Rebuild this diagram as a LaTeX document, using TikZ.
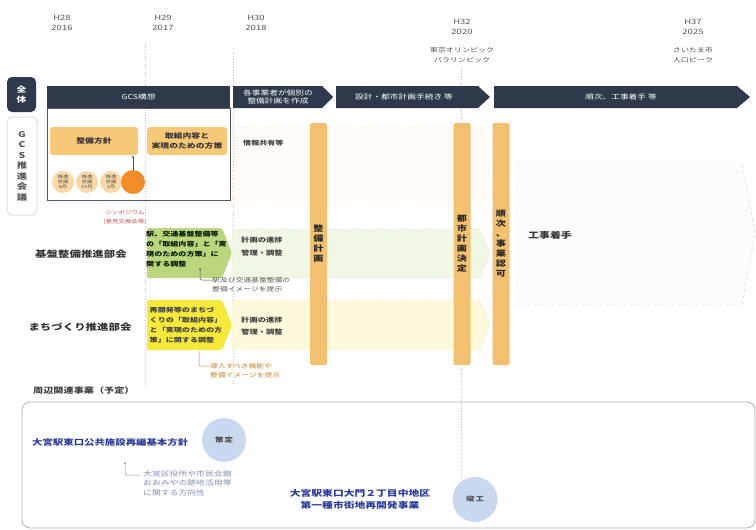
\documentclass[tikz,border=0pt]{standalone}
\usepackage{fontspec}
\setmainfont[FakeStretch=1.3]{Noto Sans CJK JP}
\definecolor{navy}{HTML}{2E3A4C}
\definecolor{obar}{HTML}{F3C070}
\definecolor{obox}{HTML}{F7C878}
\definecolor{ocirc}{HTML}{F28C28}
\definecolor{ocircl}{HTML}{F9D9A6}
\definecolor{gbox}{HTML}{BCD67E}
\definecolor{gband}{HTML}{F0F7E4}
\definecolor{ybox}{HTML}{F6E93A}
\definecolor{yband}{HTML}{FDFADC}
\definecolor{bcirc}{HTML}{C9D8EF}
\definecolor{btext}{HTML}{2A3C9C}
\definecolor{grtext}{HTML}{555555}
\definecolor{annog}{HTML}{4F5F45}
\definecolor{annoy}{HTML}{C8862A}
\definecolor{annob}{HTML}{8090B0}
\definecolor{symp}{HTML}{C0504D}
\begin{document}
\begin{tikzpicture}[x=1pt,y=-1pt,
  every node/.style={inner sep=0pt, font=\fontsize{6.5}{9}\selectfont},
  yr/.style={align=center, text=grtext, font=\fontsize{7.3}{10}\selectfont},
  vline/.style={draw=gray!45, dotted, line width=0.7pt},
  navyfill/.style={fill=navy},
  navytext/.style={text=white, align=center, font=\fontsize{6.7}{9}\selectfont},
  obarbox/.style={fill=obar, rounded corners=2pt, minimum width=17, minimum height=242, align=center, font=\bfseries\fontsize{7.8}{10}\selectfont, text=black!85},
  oboxst/.style={fill=obox, rounded corners=3pt, minimum width=88, minimum height=28, align=center, font=\bfseries\fontsize{6.8}{10}\selectfont, text=black!80},
  smallc/.style={circle, fill=ocircl, minimum size=22, align=center, font=\fontsize{4.2}{5.3}\selectfont, text=black!70},
  bandg/.style={fill=gband, draw=gray!30, dashed},
  bandy/.style={fill=yband, draw=gray!25, dashed},
  inbox/.style={align=left, font=\bfseries\fontsize{6.2}{9.8}\selectfont},
  prog/.style={align=left, font=\bfseries\fontsize{6.4}{12.5}\selectfont, text=black!75},
  anno/.style={align=left, font=\fontsize{6}{9}\selectfont},
  bcircst/.style={circle, fill=bcirc, font=\bfseries\fontsize{6.5}{8}\selectfont, text=black!70},
  btextst/.style={text=btext, font=\bfseries\fontsize{8}{12.5}\selectfont, align=center}
]
\useasboundingbox (0,0) rectangle (756,530);
\fill[white] (0,0) rectangle (756,530);

% year labels
\node[yr] (y28) at (62,23) {H28\\2016};
\node[yr] (y29) at (163,23) {H29\\2017};
\node[yr] (y30) at (256,23) {H30\\2018};
\node[yr] (y32) at (462,26.5) {H32\\2020};
\node[yr, font=\fontsize{6.2}{9.5}\selectfont] (oly) at (462,55) {東京オリンピック\\パラリンピック};
\node[yr] (y37) at (693,26.5) {H37\\2025};
\node[yr, font=\fontsize{6.2}{9.5}\selectfont] (pop) at (693,55) {さいたま市\\人口ピーク};

% vertical guides
\coordinate (g1a) at (145,42); \coordinate (g1b) at (145,385);
\coordinate (g2a) at (233,48); \coordinate (g2b) at (233,385);
\coordinate (g3a) at (461,68); \coordinate (g3b) at (461,477);
\draw[vline] (g1a) -- (g1b);
\draw[vline] (g2a) -- (g2b);
\draw[vline] (g3a) -- (g3b);

% row labels
\node[fill=navy, rounded corners=5pt, minimum width=29, minimum height=35, text=white, align=center, font=\bfseries\fontsize{7.5}{10}\selectfont] (zentai) at (21.5,94.5) {全\\体};
\node[draw=gray!25, line width=1pt, rounded corners=5pt, minimum width=30, minimum height=98, align=center, font=\bfseries\fontsize{8}{10.5}\selectfont, text=grtext] (gcslabel) at (22,166) {G\\C\\S\\推\\進\\会\\議};

% dark bars
\fill[navyfill] (47,86) rectangle (230,108);
\node[navytext] (gcs) at (138.5,97) {GCS構想};
\fill[navyfill] (233,86) -- (322,86) -- (333,97) -- (322,108) -- (233,108) -- cycle;
\node[navytext, font=\fontsize{6.7}{8.5}\selectfont] (kobetsu) at (278,97) {各事業者が個別の\\整備計画を作成};
\fill[navyfill] (336,86) -- (478,86) -- (490,97) -- (478,108) -- (336,108) -- cycle;
\node[navytext] (sekkei) at (404,97) {設計・都市計画手続き 等};
\fill[navyfill] (494,86) -- (737,86) -- (750,97) -- (737,108) -- (494,108) -- cycle;
\node[navytext] (junji) at (621,97) {順次、工事着手 等};

% light band 情報共有
\draw[draw=orange!25, dashed, fill=orange!3] (235,127) -- (482,127) -- (490,166) -- (482,205) -- (235,205) -- cycle;
\node[anchor=west, font=\bfseries\fontsize{6.2}{8}\selectfont, text=black!75] (joho) at (243,143) {情報共有等};

% GCS box
\draw[gray!70!black, line width=0.6pt] (47,108) rectangle (230,200);
\node[oboxst] (hoshin) at (94,141) {整備方針};
\node[oboxst, minimum width=80] (torikumi) at (187,141) {取組内容と\\実現のための方策};
\node[smallc] (c1) at (63,182) {推進\\会議\\8月};
\node[smallc] (c2) at (87,182) {推進\\会議\\10月};
\node[smallc] (c3) at (111,182) {推進\\会議\\1月};
\node[circle, fill=ocirc, minimum size=24] (sym) at (133,182) {};
\coordinate (symtop) at (133,157);
\fill[black!70] (symtop) circle (1.1);
\draw[black!70, line width=0.5pt] (symtop) -- (sym.north);
\node[align=center, text=symp, font=\fontsize{5}{8.5}\selectfont] (symlab) at (125,217.5) {シンポジウム\\(意見交換会等)};

% green row
\draw[bandg] (232,229) -- (480,229) -- (490,253.5) -- (480,278) -- (232,278) -- cycle;
\fill[gbox, rounded corners=2pt] (147,228) -- (222,228) -- (232,253) -- (222,278) -- (147,278) -- cycle;
\node[inbox, text=black!75!green!40!black] (gtxt) at (186.5,249) {駅、交通基盤整備等\\の「取組内容」と「実\\現のための方策」に\\関する調整};
\node[prog] (gprog) at (262,246.5) {計画の進捗\\管理・調整};
\node[font=\bfseries\fontsize{8.8}{10}\selectfont, text=black!80] (kiban) at (81,254) {基盤整備推進部会};
\coordinate (ga) at (200,269);
\fill[annog] (ga) circle (1);
\node[anno, anchor=west, text=annog] (gnote) at (212,284.5) {駅及び交通基盤整備の\\整備イメージを提示};
\draw[annog, line width=0.5pt, rounded corners=2pt] (ga) |- (gnote.west |- 0,280);

% yellow row
\draw[bandy] (232,300) -- (480,300) -- (490,325) -- (480,350) -- (232,350) -- cycle;
\fill[ybox, rounded corners=2pt] (147,300) -- (222,300) -- (232,325) -- (222,350) -- (147,350) -- cycle;
\node[inbox, text=black!75] (ytxt) at (186,325) {再開発等のまちづ\\くりの「取組内容」\\と「実現のための方\\策」に関する調整};
\node[prog] (yprog) at (262,326) {計画の進捗\\管理・調整};
\node[font=\bfseries\fontsize{8.8}{10}\selectfont, text=black!80] (machi) at (80,327) {まちづくり推進部会};
\coordinate (ya) at (199,351);
\node[anno, anchor=west, text=annoy] (ynote) at (210,370.5) {導入すべき機能や\\整備イメージを提示};
\draw[annoy, line width=0.5pt, rounded corners=2pt] (ya) |- (ynote.west |- 0,366);

% orange vertical bars
\node[obarbox] (bar1) at (318.5,244) {整\\備\\計\\画};
\node[obarbox] (bar2) at (462,244) {都\\市\\計\\画\\決\\定};
\node[obarbox] (bar3) at (501,244) {順\\次\\、\\事\\業\\認\\可};

% right dashed box
\draw[draw=gray!40, dashed, fill=gray!2] (517,162) -- (742,162) -- (755,233) -- (742,305) -- (517,305) -- cycle;
\node[anchor=west, font=\bfseries\fontsize{8.4}{9}\selectfont, text=black!80] (koji) at (528,235) {工事着手};

% bottom section
\node[anchor=west, font=\bfseries\fontsize{7.8}{9}\selectfont, text=black!75] (shuhen) at (33,391) {周辺関連事業（予定）};
\draw[gray!60, line width=0.8pt, rounded corners=8pt] (22,402) rectangle (755,528);
\node[btextst, anchor=west] (omiya1) at (32,442) {大宮駅東口公共施設再編基本方針};
\node[bcircst, minimum size=44] (sakutei) at (224,440) {策\,定};
\coordinate (ba) at (125,463);
\fill[annob] (ba) circle (1);
\node[anno, anchor=west, text=annob, font=\fontsize{6.8}{9.5}\selectfont] (bnote) at (143,483) {大宮区役所や市民会館\\おおみやの跡地活用等\\に関する方向性};
\draw[annob, line width=0.5pt, rounded corners=2pt] (ba) |- (140,475);
\node[btextst, font=\bfseries\fontsize{8.3}{12.5}\selectfont] (omiya2) at (360,499.5) {大宮駅東口大門２丁目中地区\\第一種市街地再開発事業};
\node[bcircst, minimum size=45] (shunko) at (475,499.5) {竣\,工};
\end{tikzpicture}
\end{document}
